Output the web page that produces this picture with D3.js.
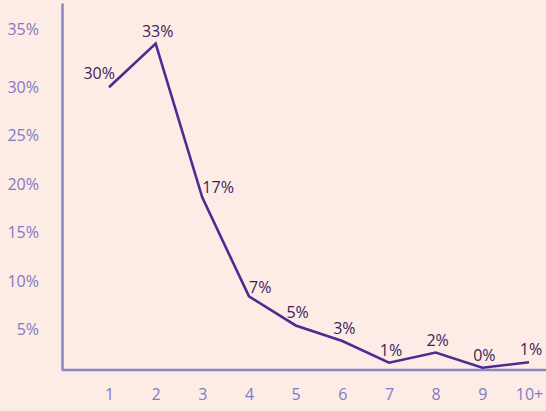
<!DOCTYPE html>
<html>
<head>
<meta charset="utf-8">
<script src="https://cdn.jsdelivr.net/npm/d3@7"></script>
<style>
  html, body { margin: 0; padding: 0; background: #fdece6; }
  svg { display: block; }
</style>
</head>
<body>
<svg id="chart" width="546" height="411"></svg>
<script>
const categories = ["1", "2", "3", "4", "5", "6", "7", "8", "9", "10+"];
const values = [30.0, 34.5, 18.6, 8.4, 5.4, 3.8, 1.55, 2.6, 1.04, 1.6];
const valueLabels = ["30%", "33%", "17%", "7%", "5%", "3%", "1%", "2%", "0%", "1%"];
const yTicks = [5, 10, 15, 20, 25, 30, 35];
const yTickLabels = ["5%", "10%", "15%", "20%", "25%", "30%", "35%"];

const svg = d3.select("#chart");
const W = 546, H = 411;
const axisX = 62, axisY = 370;

svg.append("rect").attr("width", W).attr("height", H).attr("fill", "#fdece6");

const x = d3.scalePoint().domain(categories).range([109, 529]);
const y = d3.scaleLinear().domain([0.8, 38.7]).range([axisY, 3]);

const font = "'Open Sans', sans-serif";
const axisColor = "#8c86c4";
const tickColor = "#8279c3";
const lineColor = "#4d2c92";
const labelColor = "#3a1e5e";

// Y axis
const yAxis = d3.axisLeft(y).tickValues(yTicks)
  .tickFormat((d, i) => yTickLabels[i]).tickSize(0).tickPadding(23);
const gy = svg.append("g").attr("transform", `translate(${axisX},0)`).call(yAxis);
gy.select(".domain").attr("stroke", axisColor).attr("stroke-width", 2.5);
gy.selectAll("text").attr("fill", tickColor).style("font-family", font).style("font-size", "16px");
// the top label sits a little higher in the original design
gy.selectAll(".tick").filter(d => d === 35).select("text").attr("y", -9);

// X axis
const xAxis = d3.axisBottom(x).tickSize(0).tickPadding(19);
const gx = svg.append("g").attr("transform", `translate(0,${axisY})`).call(xAxis);
gx.select(".domain").attr("d", `M${axisX},0H${W}`).attr("stroke", axisColor).attr("stroke-width", 2.5);
gx.selectAll("text").attr("fill", tickColor).style("font-family", font).style("font-size", "16px");

// Line
const line = d3.line().x((d, i) => x(categories[i])).y(d => y(d));
svg.append("path").datum(values)
  .attr("d", line)
  .attr("fill", "none")
  .attr("stroke", lineColor)
  .attr("stroke-width", 2.6)
  .attr("stroke-linejoin", "miter");

// Value labels
const anchorOf = i => i === 0 ? "end" : (i === 2 || i === 3 ? "start" : "middle");
const dxOf = i => i === 0 ? 6 : (i === 2 || i === 3 ? 0 : 2);
const dyOf = i => i === 0 ? -8 : (i === 2 ? -5 : (i === 3 ? -3 : -7));
svg.append("g").selectAll("text").data(values).join("text")
  .attr("x", (d, i) => x(categories[i]) + dxOf(i))
  .attr("y", (d, i) => y(d) + dyOf(i))
  .attr("text-anchor", (d, i) => anchorOf(i))
  .attr("fill", labelColor)
  .style("font-family", font)
  .style("font-size", "16px")
  .text((d, i) => valueLabels[i]);
</script>
</body>
</html>
